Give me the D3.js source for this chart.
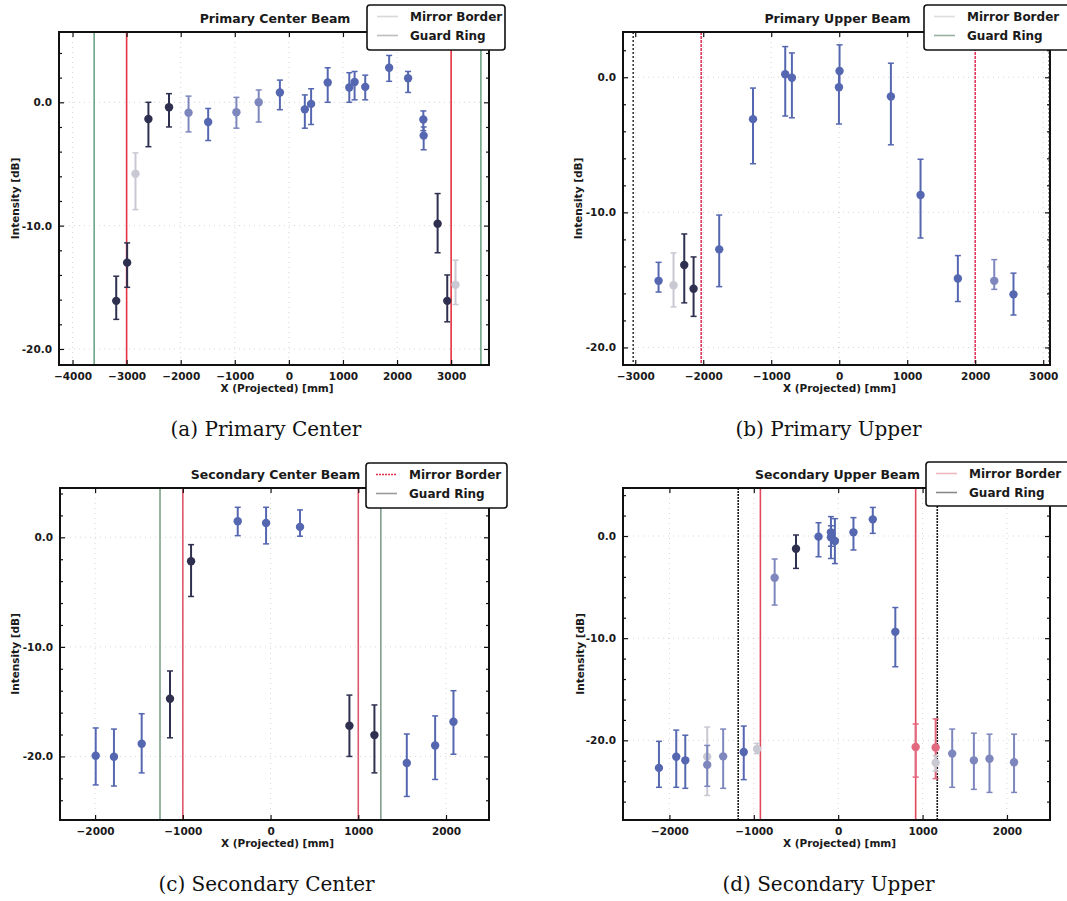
<!DOCTYPE html>
<html>
<head>
<meta charset="utf-8">
<script src="https://cdn.jsdelivr.net/npm/d3@7"></script>
<style>
  html, body { margin: 0; padding: 0; background: #fff; }
  svg { display: block; }
</style>
</head>
<body>
<svg id="chart" width="1067" height="901"></svg>
<script>
// ---------------- DATA ----------------
// (a) Primary Center Beam
const pcX  = [-3192, -2990, -2836, -2597, -2216, -1855, -1492, -970, -558, -166, 295, 411, 718, 1117, 1215, 1412, 1854, 2204, 2486, 2492, 2750, 2928, 3081];
const pcY  = [-16.1, -13.0, -5.8, -1.35, -0.4, -0.84, -1.6, -0.8, 0.0, 0.8, -0.57, -0.13, 1.6, 1.2, 1.65, 1.25, 2.8, 1.95, -1.4, -2.7, -9.84, -16.1, -14.8];
const pcHi = [-14.1, -11.4, -4.1, 0.0, 0.7, 0.5, -0.5, 0.4, 1.0, 1.8, 0.6, 1.1, 2.8, 2.4, 2.5, 2.2, 3.8, 2.5, -0.7, -2.0, -7.4, -14.0, -12.8];
const pcLo = [-17.6, -15.0, -8.7, -3.6, -2.0, -2.4, -3.1, -2.1, -1.6, -0.6, -2.1, -1.8, 0.0, 0.0, 0.2, 0.2, 1.7, 0.8, -2.3, -3.85, -12.2, -17.8, -16.4];
const pcSet = ["d","d","g","d","d","m","b","m","m","b","b","b","b","b","b","b","b","b","b","b","d","d","g"];
const pcMirror = [-3000, 3000];
const pcGuard  = [-3600, 3550];

// (b) Primary Upper Beam
const puX  = [-2657, -2437, -2279, -2142, -1765, -1268, -794, -696, 5, -4, 760, 1196, 1745, 2280, 2563];
const puY  = [-15.07, -15.4, -13.9, -15.66, -12.74, -3.1, 0.22, -0.03, 0.47, -0.74, -1.43, -8.72, -14.9, -15.07, -16.07];
const puHi = [-13.7, -13.0, -11.6, -13.3, -10.2, -0.8, 2.27, 1.8, 2.4, 0.47, 1.04, -6.07, -13.2, -13.5, -14.5];
const puLo = [-15.9, -17.0, -16.7, -17.7, -15.5, -6.4, -2.87, -3.0, -0.74, -3.46, -5.0, -11.9, -16.6, -15.7, -17.6];
const puSet = ["b","g","d","d","b","b","b","b","b","b","b","b","b","m","b"];
const puMirror = [-2030, 2000];
const puGuard  = [-3030, 3090];

// (c) Secondary Center Beam
const scX  = [-1993, -1785, -1469, -1146, -906, -374, -51, 336, 899, 1184, 1553, 1876, 2085];
const scY  = [-19.94, -20.03, -18.84, -14.73, -2.19, 1.46, 1.31, 0.95, -17.2, -18.05, -20.6, -19.0, -16.83];
const scHi = [-17.4, -17.5, -16.1, -12.2, -0.67, 2.74, 2.74, 2.5, -14.4, -15.3, -17.95, -16.3, -14.0];
const scLo = [-22.6, -22.7, -21.5, -18.3, -5.4, 0.15, -0.6, 0.1, -20.0, -21.5, -23.65, -22.1, -19.8];
const scSet = ["b","b","b","d","d","b","b","b","d","d","b","b","b"];
const scMirror = [-1000, 1000];
const scGuard  = [-1260, 1257];

// (d) Secondary Upper Beam
const suX  = [-2124, -1919, -1812, -1552, -1552, -1363, -1119, -961, -753, -500, -233, -86, -86, -39, 181, 410, 677, 918, 1155, 1155, 1351, 1608, 1793, 2084];
const suY  = [-22.7, -21.6, -21.96, -21.6, -22.4, -21.57, -21.15, -20.85, -4.08, -1.24, -0.06, 0.36, -0.13, -0.49, 0.36, 1.63, -9.38, -20.65, -20.7, -22.2, -21.3, -21.96, -21.8, -22.15];
const suHi = [-20.1, -19.0, -19.5, -18.7, -20.5, -18.9, -18.6, -20.3, -2.25, 0.1, 1.3, 1.9, 1.0, 1.7, 1.8, 2.8, -7.0, -18.4, -17.9, -21.5, -18.9, -19.3, -19.4, -19.4];
const suLo = [-24.6, -24.6, -24.7, -25.4, -24.5, -24.7, -23.85, -21.3, -6.76, -3.17, -2.03, -2.2, -1.0, -2.7, -1.37, 0.26, -12.8, -23.6, -23.75, -23.0, -24.6, -24.8, -25.1, -25.1];
const suSet = ["b","b","b","g","m","m","b","g","m","d","b","b","b","b","b","b","b","r","r","g","m","m","m","m"];
const suMirror = [-922, 918];
const suGuard  = [-1185, 1174];

// Tick labels / axis limits
const pcXTicks = [-4000, -3000, -2000, -1000, 0, 1000, 2000, 3000];
const puXTicks = [-3000, -2000, -1000, 0, 1000, 2000, 3000];
const sXTicks  = [-2000, -1000, 0, 1000, 2000];
const pYTicks  = [0, -10, -20];
const sYTicks  = [0, -10, -20];
const titles   = ["Primary Center Beam", "Primary Upper Beam", "Secondary Center Beam", "Secondary Upper Beam"];
const captions = ["(a) Primary Center", "(b) Primary Upper", "(c) Secondary Center", "(d) Secondary Upper"];
const legendLabels = ["Mirror Border", "Guard Ring"];

// ---------------- DRAWING ----------------
const svg = d3.select("#chart");
const setColor = d3.scaleOrdinal().domain(["b","d","g","m","r"])
  .range(["#5567b0", "#2f3050", "#c8c9d2", "#7e87bd", "#e2687e"]);

const panels = [
  { x: pcX, y: pcY, hi: pcHi, lo: pcLo, set: pcSet, mirror: pcMirror, guard: pcGuard,
    rect: [59, 32, 489, 365], xd: [-4250, 3700], yd: [-21.3, 5.7], xt: pcXTicks, yt: pYTicks,
    title: titles[0], cap: captions[0], mirrorCol: "#e5333f", guardCol: "#6fa487", mirrorDash: null, guardDash: null,
    legMirror: "#d8d8d8", legGuard: "#bdbdbd", legDash: null, legend: [367, 5, 505, 50], ylabX: 15 },
  { x: puX, y: puY, hi: puHi, lo: puLo, set: puSet, mirror: puMirror, guard: puGuard,
    rect: [623, 32, 1050, 365], xd: [-3180, 3100], yd: [-21.3, 3.35], xt: puXTicks, yt: pYTicks,
    title: titles[1], cap: captions[1], mirrorCol: "#e03a5e", guardCol: "#3a3a3a", mirrorDash: "3,1", guardDash: "2,2",
    legMirror: "#dedede", legGuard: "#98b0a0", legDash: null, legend: [924, 5, 1080, 50], ylabX: 578 },
  { x: scX, y: scY, hi: scHi, lo: scLo, set: scSet, mirror: scMirror, guard: scGuard,
    rect: [60, 488, 489, 820], xd: [-2400, 2490], yd: [-25.8, 4.5], xt: sXTicks, yt: sYTicks,
    title: titles[2], cap: captions[2], mirrorCol: "#e0566c", guardCol: "#7fa08a", mirrorDash: null, guardDash: null,
    legMirror: "#e0304e", legGuard: "#9a9a9a", legDash: "2,1", legend: [366, 463, 507, 508], ylabX: 15 },
  { x: suX, y: suY, hi: suHi, lo: suLo, set: suSet, mirror: suMirror, guard: suGuard,
    rect: [623, 488, 1050, 820], xd: [-2550, 2510], yd: [-27.8, 4.7], xt: sXTicks, yt: sYTicks,
    title: titles[3], cap: captions[3], mirrorCol: "#e2485c", guardCol: "#1a1a1a", mirrorDash: null, guardDash: "2,1",
    legMirror: "#f2b8c0", legGuard: "#8a8a8a", legDash: null, legend: [926, 462, 1080, 506], ylabX: 580 }
];

const SANS = "'DejaVu Sans', sans-serif";
const fmtX = d3.format("d");
const fmtY = v => d3.format(".1f")(v).replace("\u2212", "-");

panels.forEach(p => {
  const [L, T, R, B] = p.rect;
  const xs = d3.scaleLinear().domain(p.xd).range([L, R]);
  const ys = d3.scaleLinear().domain(p.yd).range([B, T]);
  const g = svg.append("g");

  // dotted grid
  const grid = g.append("g").attr("stroke", "#8a8a8a").attr("stroke-opacity", 0.35)
    .attr("stroke-width", 1).attr("stroke-dasharray", "1,4");
  grid.selectAll("line.gx").data(p.xt).join("line")
    .attr("x1", d => xs(d)).attr("x2", d => xs(d)).attr("y1", T).attr("y2", B);
  grid.selectAll("line.gy").data(p.yt).join("line")
    .attr("x1", L).attr("x2", R).attr("y1", d => ys(d)).attr("y2", d => ys(d));

  // vertical border lines
  g.selectAll("line.guard").data(p.guard).join("line")
    .attr("x1", d => xs(d)).attr("x2", d => xs(d)).attr("y1", T).attr("y2", B)
    .attr("stroke", p.guardCol).attr("stroke-width", 1.6)
    .attr("stroke-dasharray", p.guardDash);
  g.selectAll("line.mirror").data(p.mirror).join("line")
    .attr("x1", d => xs(d)).attr("x2", d => xs(d)).attr("y1", T).attr("y2", B)
    .attr("stroke", p.mirrorCol).attr("stroke-width", 1.6)
    .attr("stroke-dasharray", p.mirrorDash);

  // error bars + points
  const idx = d3.range(p.x.length);
  const pts = g.append("g");
  const eg = pts.selectAll("g.pt").data(idx).join("g");
  eg.append("line")
    .attr("x1", i => xs(p.x[i])).attr("x2", i => xs(p.x[i]))
    .attr("y1", i => ys(p.hi[i])).attr("y2", i => ys(p.lo[i]))
    .attr("stroke", i => setColor(p.set[i])).attr("stroke-width", 2);
  ["hi", "lo"].forEach(k => {
    eg.append("line")
      .attr("x1", i => xs(p.x[i]) - 3).attr("x2", i => xs(p.x[i]) + 3)
      .attr("y1", i => ys(p[k][i])).attr("y2", i => ys(p[k][i]))
      .attr("stroke", i => setColor(p.set[i])).attr("stroke-width", 1.5);
  });
  eg.append("circle")
    .attr("cx", i => xs(p.x[i])).attr("cy", i => ys(p.y[i])).attr("r", 4.2)
    .attr("fill", i => setColor(p.set[i]));

  // axes (ticks inward, on all 4 sides)
  const axB = d3.axisBottom(xs).tickValues(p.xt).tickFormat(fmtX).tickSize(-5).tickPadding(8);
  const axT = d3.axisTop(xs).tickValues(p.xt).tickFormat("").tickSize(-5);
  const axL = d3.axisLeft(ys).tickValues(p.yt).tickFormat(fmtY).tickSize(-5).tickPadding(7);
  const axR = d3.axisRight(ys).tickValues(p.yt).tickFormat("").tickSize(-5);
  const minorY = d3.range(Math.ceil(p.yd[0] / 2) * 2, p.yd[1], 2).filter(v => v % 10 !== 0);
  const mL = d3.axisLeft(ys).tickValues(minorY).tickFormat("").tickSize(-3);
  const mR = d3.axisRight(ys).tickValues(minorY).tickFormat("").tickSize(-3);

  const addAxis = (ax, tr) => {
    const a = g.append("g").attr("transform", tr).call(ax);
    a.select(".domain").remove();
    a.selectAll("line").attr("stroke", "#111").attr("stroke-width", 1.2);
    a.selectAll("text").attr("font-size", 10.5).attr("font-weight", "bold").attr("fill", "#1a1a1a")
      .style("font-family", SANS);
    return a;
  };
  addAxis(axB, `translate(0,${B})`);
  addAxis(axT, `translate(0,${T})`);
  addAxis(axL, `translate(${L},0)`);
  addAxis(axR, `translate(${R},0)`);
  addAxis(mL, `translate(${L},0)`);
  addAxis(mR, `translate(${R},0)`);

  // frame
  g.append("rect").attr("x", L).attr("y", T).attr("width", R - L).attr("height", B - T)
    .attr("fill", "none").attr("stroke", "#111").attr("stroke-width", 2);

  // axis labels
  g.append("text").attr("x", (L + R) / 2 + 3).attr("y", B + 27).attr("text-anchor", "middle")
    .style("font-family", SANS)
    .attr("font-size", 10.5).attr("font-weight", "bold").attr("fill", "#1a1a1a").text("X (Projected) [mm]");
  g.append("text").attr("transform", `translate(${p.ylabX},${(T + B) / 2}) rotate(-90)`)
    .attr("text-anchor", "middle").attr("dy", "0.35em").style("font-family", SANS)
    .attr("font-size", 10.5).attr("font-weight", "bold").attr("fill", "#1a1a1a").text("Intensity [dB]");

  // title
  g.append("text").attr("x", (L + R) / 2 + 1).attr("y", T - 9).attr("text-anchor", "middle")
    .style("font-family", SANS)
    .attr("font-size", 12.5).attr("font-weight", "bold").attr("fill", "#1a1a1a").text(p.title);

  // legend
  const [lx0, ly0, lx1, ly1] = p.legend;
  const lg = g.append("g");
  lg.append("rect").attr("x", lx0).attr("y", ly0).attr("width", lx1 - lx0).attr("height", ly1 - ly0)
    .attr("rx", 3).attr("fill", "#fff").attr("stroke", "#111").attr("stroke-width", 1.6);
  const legCols = [p.legMirror, p.legGuard];
  legendLabels.forEach((lab, k) => {
    const yy = ly0 + 11.5 + k * 19;
    lg.append("line").attr("x1", lx0 + 10).attr("x2", lx0 + 31).attr("y1", yy).attr("y2", yy)
      .attr("stroke", legCols[k]).attr("stroke-width", 1.6)
      .attr("stroke-dasharray", k === 0 ? p.legDash : null);
    lg.append("text").attr("x", lx0 + 43).attr("y", yy).attr("dy", "0.35em").style("font-family", SANS)
      .attr("font-size", 12).attr("font-weight", "bold").attr("fill", "#1a1a1a").text(lab);
  });

  // caption
  svg.append("text").attr("x", (L + R) / 2 - 8).attr("y", B + 71).attr("text-anchor", "middle")
    .style("font-family", "'DejaVu Serif', 'Liberation Serif', serif")
    .attr("font-size", 20).attr("fill", "#111").text(p.cap);
});
</script>
</body>
</html>
